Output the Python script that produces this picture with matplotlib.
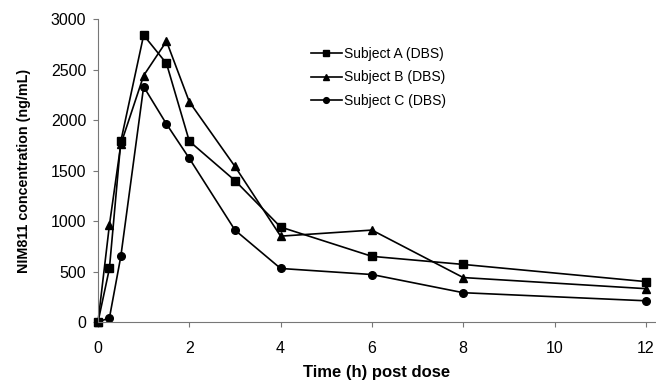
import matplotlib.pyplot as plt

plt.rcParams['font.family'] = ['Liberation Sans', 'DejaVu Sans']

time_h = [0, 0.25, 0.5, 1, 1.5, 2, 3, 4, 6, 8, 12]
subj_a = [0, 530, 1790, 2840, 2560, 1790, 1400, 940, 650, 570, 400]
subj_b = [0, 960, 1760, 2440, 2780, 2180, 1540, 850, 910, 440, 330]
subj_c = [0, 40, 650, 2330, 1960, 1620, 910, 530, 470, 290, 210]
labels = ['Subject A (DBS)', 'Subject B (DBS)', 'Subject C (DBS)']
markers = ['s', '^', 'o']

fig = plt.figure(figsize=(6.56, 3.82), dpi=100)
ax = fig.add_axes([98 / 656, 60 / 382, 557 / 656, 303 / 382])

for ys, m, lbl in zip([subj_a, subj_b, subj_c], markers, labels):
    ax.plot(time_h, ys, color='black', lw=1.2, marker=m, ms=5.5, label=lbl, clip_on=False)

ax.set_xlim(0, 12.2)
ax.set_ylim(0, 3000)
ax.set_xticks([0, 2, 4, 6, 8, 10, 12])
ax.set_yticks(range(0, 3001, 500))
for s in ['top', 'right']:
    ax.spines[s].set_visible(False)
for s in ['left', 'bottom']:
    ax.spines[s].set_color('#777777')
ax.tick_params(axis='both', colors='#777777', labelcolor='black', labelsize=11.5,
               length=3.5, direction='out')
ax.tick_params(axis='x', pad=10)
ax.tick_params(axis='y', pad=5)

ax.set_xlabel('Time (h) post dose', fontsize=12, fontweight='bold', labelpad=7)
ax.set_ylabel('NIM811 concentration (ng/mL)', fontsize=10.3, fontweight='bold', labelpad=14)

ax.legend(loc='upper left', bbox_to_anchor=(0.36, 0.95), frameon=False, fontsize=10,
          handlelength=2.2, handletextpad=0.2, labelspacing=0.7, markerscale=0.75)

fig.savefig('out.png', dpi=100)
